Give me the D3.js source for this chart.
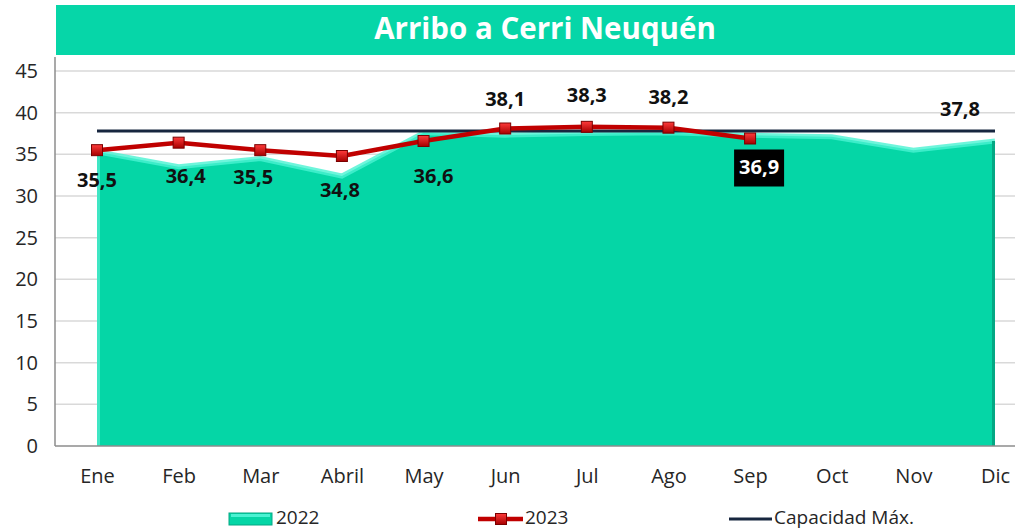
<!DOCTYPE html>
<html>
<head>
<meta charset="utf-8">
<script src="https://cdn.jsdelivr.net/npm/d3@7"></script>
<style>
  body { margin: 0; background: #fff; }
  text { font-family: "Open Sans", sans-serif; }
</style>
</head>
<body>
<div class="canvas"></div>
<script>
// data
const months = ['Ene', 'Feb', 'Mar', 'Abril', 'May', 'Jun', 'Jul', 'Ago', 'Sep', 'Oct', 'Nov', 'Dic'];
const values2022 = [35.3, 33.5, 34.5, 32.4, 37.6, 37.3, 37.5, 37.6, 37.3, 37.1, 35.5, 36.6];
const values2023 = [35.5, 36.4, 35.5, 34.8, 36.6, 38.1, 38.3, 38.2, 36.9];
const capacity = [37.8, 37.8, 37.8, 37.8, 37.8, 37.8, 37.8, 37.8, 37.8, 37.8, 37.8, 37.8];
const yTicks = [0, 5, 10, 15, 20, 25, 30, 35, 40, 45];

const dims = { width: 1015, height: 532 };
const plot = { left: 55, right: 1015, top: 57, bottom: 446 };

const svg = d3.select('.canvas')
    .append('svg')
    .attr('width', dims.width)
    .attr('height', dims.height)
;

const x = d3.scalePoint()
    .domain(months)
    .range([97, 995])
;

const y = d3.scaleLinear()
    .domain([0, 45])
    .range([plot.bottom, 71])
;

const fmt = v => String(v).replace('.', ',');

// title bar
svg.append('rect')
    .attr('x', 56).attr('y', 5)
    .attr('width', 959).attr('height', 50)
    .attr('fill', '#06d6a8')
;
svg.append('text')
    .attr('x', 545).attr('y', 31)
    .attr('text-anchor', 'middle')
    .attr('dominant-baseline', 'middle')
    .attr('fill', '#fff')
    .attr('font-size', 29.5)
    .attr('font-weight', 'bold')
    .text('Arribo a Cerri Neuquén')
;

// gridlines
svg.append('g')
    .selectAll('line')
    .data(yTicks.filter(t => t > 0))
    .enter()
    .append('line')
    .attr('x1', plot.left).attr('x2', plot.right)
    .attr('y1', d => y(d)).attr('y2', d => y(d))
    .attr('stroke', '#d9d9d9')
    .attr('stroke-width', 1.5)
;

// y axis
const yAxis = d3.axisLeft(y).tickValues(yTicks).tickSize(0).tickPadding(17);
const yg = svg.append('g')
    .attr('transform', `translate(${plot.left},0)`)
    .call(yAxis)
;
yg.select('.domain').remove();
yg.selectAll('text')
    .attr('font-size', 20)
    .attr('fill', '#262626')
;
svg.append('line')
    .attr('x1', plot.left).attr('x2', plot.left)
    .attr('y1', plot.top).attr('y2', plot.bottom)
    .attr('stroke', '#8c8c8c').attr('stroke-width', 1.5)
;

// x axis
const xAxis = d3.axisBottom(x).tickSize(0).tickPadding(23);
const xg = svg.append('g')
    .attr('transform', `translate(0,${plot.bottom})`)
    .call(xAxis)
;
xg.select('.domain').remove();
xg.selectAll('text')
    .attr('font-size', 20)
    .attr('fill', '#262626')
;

// 2022 area
const area = d3.area()
    .x((d, i) => x(months[i]))
    .y0(y(0))
    .y1(d => y(d))
;
const topLine = d3.line()
    .x((d, i) => x(months[i]))
    .y(d => y(d))
;
svg.append('path')
    .datum(values2022)
    .attr('d', area)
    .attr('fill', '#05d6a6')
;
svg.append('path')
    .datum(values2022)
    .attr('d', topLine)
    .attr('fill', 'none')
    .attr('stroke', '#4af2d2')
    .attr('stroke-width', 5)
    .attr('opacity', 0.8)
;
svg.append('line')
    .attr('x1', x('Ene') + 1.5).attr('x2', x('Ene') + 1.5)
    .attr('y1', y(values2022[0])).attr('y2', y(0))
    .attr('stroke', '#3fe6c4').attr('stroke-width', 3)
;
svg.append('line')
    .attr('x1', x('Dic') - 1.5).attr('x2', x('Dic') - 1.5)
    .attr('y1', y(values2022[11])).attr('y2', y(0))
    .attr('stroke', '#04a884').attr('stroke-width', 3)
;

// baseline
svg.append('line')
    .attr('x1', plot.left).attr('x2', plot.right)
    .attr('y1', plot.bottom).attr('y2', plot.bottom)
    .attr('stroke', '#8c8c8c').attr('stroke-width', 1.5)
;

// capacity line
const capLine = d3.line()
    .x((d, i) => x(months[i]))
    .y(d => y(d))
;
svg.append('path')
    .datum(capacity)
    .attr('d', capLine)
    .attr('fill', 'none')
    .attr('stroke', '#17263f')
    .attr('stroke-width', 3)
;
svg.append('text')
    .attr('x', x('Dic') - 35)
    .attr('y', y(capacity[11]) - 20)
    .attr('text-anchor', 'middle')
    .attr('dominant-baseline', 'middle')
    .attr('font-size', 20)
    .attr('font-weight', 'bold')
    .attr('fill', '#111')
    .text(fmt(capacity[11]))
;

// 2023 line
const defs = svg.append('defs');
const grad = defs.append('linearGradient')
    .attr('id', 'mk').attr('x1', 0).attr('y1', 0).attr('x2', 0).attr('y2', 1);
grad.append('stop').attr('offset', '0%').attr('stop-color', '#ff3b3b');
grad.append('stop').attr('offset', '100%').attr('stop-color', '#a60000');

const line23 = d3.line()
    .x((d, i) => x(months[i]))
    .y(d => y(d))
;
svg.append('path')
    .datum(values2023)
    .attr('d', line23)
    .attr('fill', 'none')
    .attr('stroke', '#c00000')
    .attr('stroke-width', 4.5)
    .attr('stroke-linejoin', 'round')
;
svg.append('g')
    .selectAll('rect')
    .data(values2023)
    .enter()
    .append('rect')
    .attr('x', (d, i) => x(months[i]) - 5.5)
    .attr('y', d => y(d) - 5.5)
    .attr('width', 11).attr('height', 11)
    .attr('fill', 'url(#mk)')
    .attr('stroke', '#7a0000')
    .attr('stroke-width', 1)
;

// 2023 labels: below for first months, above for the peak months
const labelDy = [31, 35, 28, 36, 37, -28, -30, -29, 30];
const labelDx = [0, 7, -7, -2, 10, 0, 0, 0, 9];
const labels = svg.append('g');
values2023.forEach((v, i) => {
    const lx = x(months[i]) + labelDx[i];
    const ly = y(v) + labelDy[i];
    if (i === 8) {
        labels.append('rect')
            .attr('x', lx - 25).attr('y', ly - 19)
            .attr('width', 50).attr('height', 37)
            .attr('fill', '#000');
    }
    labels.append('text')
        .attr('x', lx).attr('y', ly)
        .attr('text-anchor', 'middle')
        .attr('dominant-baseline', 'middle')
        .attr('font-size', 20)
        .attr('font-weight', 'bold')
        .attr('fill', i === 8 ? '#fff' : '#111')
        .text(fmt(v));
});

// legend
const lg = svg.append('g').attr('transform', 'translate(0,519)');
lg.append('rect')
    .attr('x', 229).attr('y', -6).attr('width', 43).attr('height', 12)
    .attr('fill', '#05d6a6').attr('stroke', '#04a884').attr('stroke-width', 1);
lg.append('rect')
    .attr('x', 231).attr('y', -5).attr('width', 39).attr('height', 3)
    .attr('fill', '#4af2d2');
lg.append('text').attr('x', 276).attr('y', 0)
    .attr('dominant-baseline', 'middle').attr('font-size', 19).attr('fill', '#262626')
    .text('2022');

lg.append('line')
    .attr('x1', 478).attr('x2', 523).attr('y1', 0).attr('y2', 0)
    .attr('stroke', '#c00000').attr('stroke-width', 4.5);
lg.append('rect')
    .attr('x', 495.5).attr('y', -5.5).attr('width', 11).attr('height', 11)
    .attr('fill', 'url(#mk)').attr('stroke', '#7a0000');
lg.append('text').attr('x', 525).attr('y', 0)
    .attr('dominant-baseline', 'middle').attr('font-size', 19).attr('fill', '#262626')
    .text('2023');

lg.append('line')
    .attr('x1', 729).attr('x2', 772).attr('y1', 0).attr('y2', 0)
    .attr('stroke', '#17263f').attr('stroke-width', 3);
lg.append('text').attr('x', 774).attr('y', 0)
    .attr('dominant-baseline', 'middle').attr('font-size', 19).attr('fill', '#262626')
    .text('Capacidad Máx.');
</script>
</body>
</html>
